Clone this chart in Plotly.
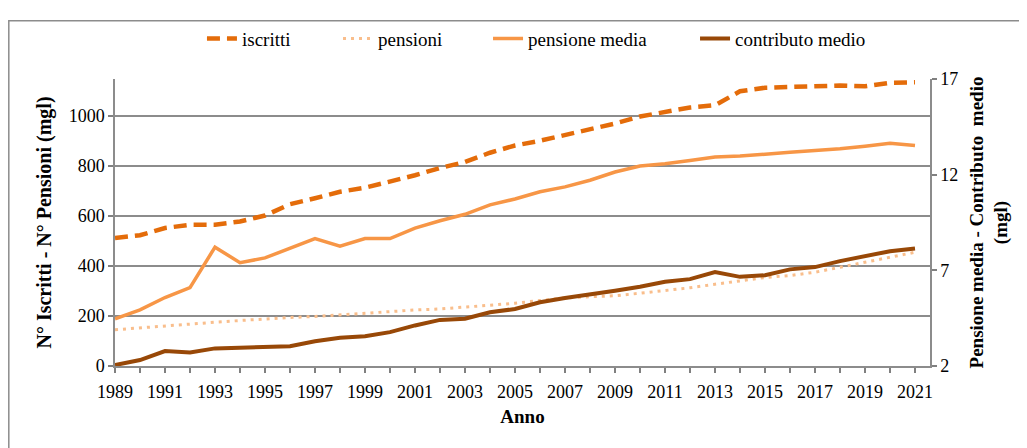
import plotly.graph_objects as go

anni = list(range(1989, 2022))
iscritti = [512, 523, 552, 565, 565, 578, 602, 647, 671, 697, 713, 737, 763, 792,
            816, 853, 882, 901, 924, 948, 970, 998, 1016, 1034, 1043, 1099, 1113,
            1117, 1122, 1122, 1119, 1133, 1135]
pensioni = [145, 153, 162, 168, 175, 182, 189, 194, 198, 205, 211, 218, 224, 228,
            235, 243, 251, 262, 272, 277, 281, 291, 301, 313, 327, 341, 354,
            362, 375, 395, 415, 435, 455]
pensione_media = [4.47, 4.93, 5.58, 6.10, 8.21, 7.40, 7.65, 8.14, 8.66, 8.26, 8.66,
                  8.66, 9.21, 9.59, 9.93, 10.42, 10.73, 11.11, 11.36, 11.71, 12.14,
                  12.45, 12.57, 12.74, 12.92, 12.97, 13.09, 13.17, 13.26, 13.35,
                  13.49, 13.64, 13.52]
contributo_medio = [2.05, 2.31, 2.78, 2.71, 2.92, 2.97, 2.97, 3.03, 3.29, 3.48, 3.55,
                    3.77, 4.12, 4.41, 4.47, 4.81, 4.98, 5.33, 5.55, 5.72, 5.93, 6.14,
                    6.40, 6.54, 6.91, 6.66, 6.74, 7.05, 7.17, 7.48, 7.74, 8.00, 8.14]

FONT = "Liberation Serif, Times New Roman, serif"
NB = "\u00a0"

fig = go.Figure()
fig.add_trace(go.Scatter(x=anni, y=iscritti, name="iscritti", mode="lines", legend="legend",
                         line=dict(color="#E46C0A", width=4.5, dash="13px,7px")))
fig.add_trace(go.Scatter(x=anni, y=pensioni, name="pensioni", mode="lines", legend="legend2",
                         line=dict(color="#F9BE8C", width=3, dash="3px,5px")))
fig.add_trace(go.Scatter(x=anni, y=pensione_media, name="pensione media", mode="lines",
                         legend="legend3", yaxis="y2", line=dict(color="#F79646", width=3.5)))
fig.add_trace(go.Scatter(x=anni, y=contributo_medio, name="contributo medio", mode="lines",
                         legend="legend4", yaxis="y2", line=dict(color="#984807", width=4)))

def leg(x):
    return dict(orientation="h", x=x, xanchor="left", y=1.141, yanchor="middle",
                font=dict(family=FONT, size=19, color="black"), itemwidth=30,
                bgcolor="rgba(0,0,0,0)", borderwidth=0)

title_left = "<b>N°" + NB + "Iscritti" + NB + "-" + NB + "N°" + NB + "Pensioni" + NB + "(mgl)</b>"
title_right = ("<b>Pensione" + NB + "media" + NB + "-" + NB + "Contributo" + NB * 2 +
               "medio<br>(mgl)</b>")

fig.update_layout(
    width=1019, height=440,
    margin=dict(l=107, r=97, t=68, b=82),
    paper_bgcolor="white", plot_bgcolor="white",
    font=dict(family=FONT, size=18, color="black"),
    showlegend=True,
    legend=leg(0.1067), legend2=leg(0.2736), legend3=leg(0.4577), legend4=leg(0.7117),
    xaxis=dict(range=[1989, 2021.6], tickmode="linear", tick0=1989, dtick=2,
               ticks="outside", ticklen=5, tickcolor="#808080", tickwidth=1.5,
               ticklabelstandoff=4,
               minor=dict(dtick=1, tick0=1989, ticks="outside", ticklen=5,
                          tickcolor="#808080", tickwidth=1.5),
               showline=True, linecolor="#8C8C8C", linewidth=1.5, showgrid=False,
               zeroline=False, automargin=False,
               title=dict(text="<b>Anno</b>", font=dict(family=FONT, size=19), standoff=8)),
    yaxis=dict(range=[0, 1148], tickvals=[0, 200, 400, 600, 800, 1000],
               ticks="outside", ticklen=5, tickcolor="#808080", tickwidth=1.5,
               showline=True, linecolor="#8C8C8C", linewidth=1.5,
               showgrid=True, gridcolor="#8C8C8C", gridwidth=2, zeroline=False,
               automargin=False,
               title=dict(text=title_left, font=dict(family=FONT, size=20), standoff=12)),
    yaxis2=dict(range=[2, 17], tickvals=[2, 7, 12, 17], overlaying="y", side="right",
                ticks="outside", ticklen=5, tickcolor="#808080", tickwidth=1.5,
                showline=True, linecolor="#8C8C8C", linewidth=1.5,
                showgrid=False, zeroline=False, automargin=False,
                title=dict(text=title_right, font=dict(family=FONT, size=19), standoff=12)),
)

fig.add_shape(type="rect", xref="paper", yref="paper",
              x0=-0.1303, x1=1.1117, y0=-0.30, y1=1.203,
              line=dict(color="#8C8C8C", width=1.5), fillcolor="rgba(0,0,0,0)", layer="below")

fig.write_html("out.html")
